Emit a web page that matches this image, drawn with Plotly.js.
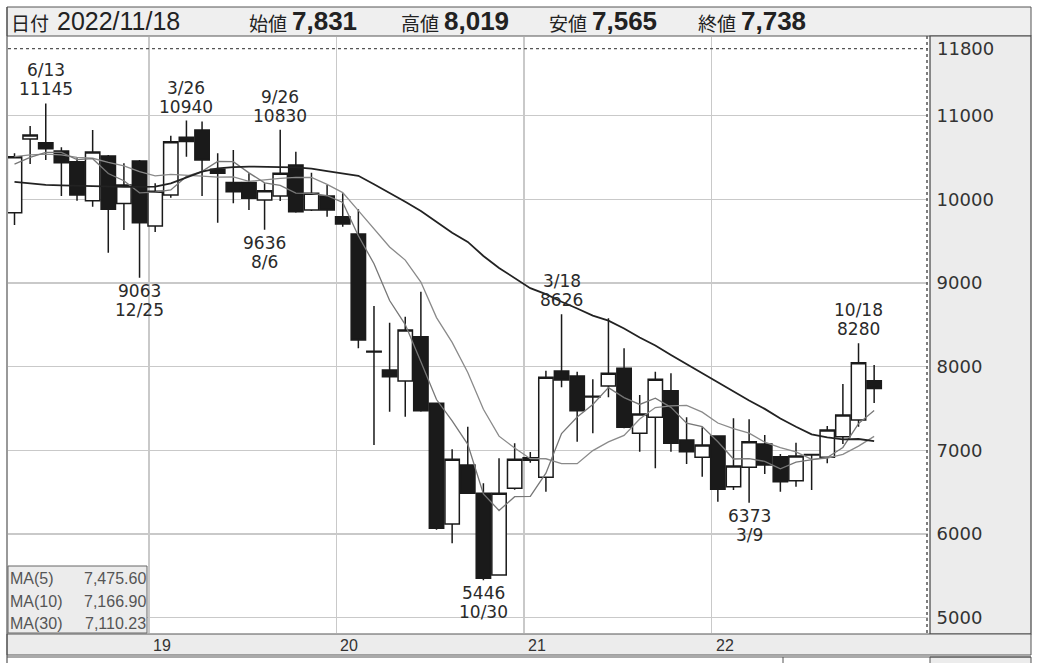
<!DOCTYPE html>
<html><head><meta charset="utf-8">
<script src="https://cdn.plot.ly/plotly-3.0.1.min.js"></script>
<style>html,body{margin:0;padding:0;background:#fff;}#chart{width:1040px;height:663px;}</style>
</head><body><div id="chart"></div>
<script>
// ---------- data (monthly candles, Apr 2018 - Nov 2022) ----------
const months = ['2018/04','2018/05','2018/06','2018/07','2018/08','2018/09','2018/10','2018/11','2018/12',
 '2019/01','2019/02','2019/03','2019/04','2019/05','2019/06','2019/07','2019/08','2019/09','2019/10','2019/11','2019/12',
 '2020/01','2020/02','2020/03','2020/04','2020/05','2020/06','2020/07','2020/08','2020/09','2020/10','2020/11','2020/12',
 '2021/01','2021/02','2021/03','2021/04','2021/05','2021/06','2021/07','2021/08','2021/09','2021/10','2021/11','2021/12',
 '2022/01','2022/02','2022/03','2022/04','2022/05','2022/06','2022/07','2022/08','2022/09','2022/10','2022/11'];
const openV  = [9840,10720,10676,10577,10449,9983,10517,9950,10458,9680,10051,10740,10828,10358,10199,10199,9992,10039,10410,9872,10039,
 9792,9585,8185,7960,7829,8358,7562,6120,6825,6487,5510,6546,6880,6678,7948,7888,7645,7769,7980,7204,7395,7713,7124,6917,
 7171,6566,6797,7076,6924,6637,6944,6917,7163,7363,7831];
const highV  = [10550,10876,11145,10621,10490,10828,10530,10430,10470,10190,10760,10940,10930,10550,10589,10311,10191,10830,10569,10318,10171,
 10072,9880,8725,8525,8597,8896,7570,7013,7283,6606,6905,7084,6980,7952,8626,7940,7849,8578,8219,7661,7940,7921,7395,7275,
 7180,7383,7371,7183,6956,7091,6960,7291,7793,8280,8019];
const lowV   = [9693,10422,10470,10039,9983,9912,9362,9633,9063,9610,10019,10509,10039,9720,9952,9872,9636,9980,9840,9860,9792,
 9673,8219,7064,7462,7402,7460,6050,5889,6480,5446,5500,6530,6850,6506,7753,7103,7204,7634,7265,6984,6785,6984,6837,6685,
 6386,6526,6373,6717,6506,6566,6526,6845,7076,7283,7565];
const closeV = [10509,10768,10605,10437,10051,10565,9880,10170,9720,10095,10688,10690,10470,10311,10091,10012,10103,10311,9852,10072,9872,
 9705,8319,8175,7880,8438,7474,6068,6893,6487,5471,6487,6893,6910,7873,7841,7474,7638,7921,7275,7434,7849,7084,6984,7064,
 6535,6813,7103,6825,6625,6932,6950,7243,7422,8047,7738];
const ma5  = [10420,10500,10560,10560,10474,10485,10308,10221,10077,10086,10111,10273,10333,10451,10450,10315,10197,10166,10074,10070,10042,
 9962,9564,9229,8790,8503,8057,7607,7351,7072,6479,6281,6446,6450,6727,7201,7398,7547,7749,7630,7548,7623,7513,7325,7283,
 7103,6896,6900,6868,6780,6860,6887,6915,7034,7319,7476];
const ma10 = [10510,10530,10540,10530,10500,10490,10440,10400,10330,10280,10298,10290,10277,10264,10268,10213,10235,10249,10262,10260,10178,
 10080,9865,9651,9430,9273,9010,8586,8290,7931,7491,7169,7027,6900,6899,6840,6840,6997,7100,7178,7375,7511,7530,7537,7456,
 7326,7260,7206,7097,7032,6981,6892,6907,6951,7050,7167];
const ma30 = [10207,10189,10171,10165,10159,10159,10153,10147,10147,10150,10190,10260,10330,10370,10385,10390,10390,10385,10380,10365,10335,
 10310,10280,10180,10080,9970,9860,9730,9600,9490,9322,9180,9056,8938,8866,8775,8695,8610,8550,8456,8348,8253,8140,8030,7929,
 7813,7703,7596,7495,7380,7282,7191,7155,7130,7135,7110];

const yearLabels = ['19','20','21','22'];
const yearFirstMonth = ['2019/01','2020/01','2021/01','2022/01'];
const yTicks = [5000,6000,7000,8000,9000,10000,11000];
const yTopTick = 11800;

const highMarkMonth = ['2018/06','2019/03','2019/09','2021/03','2022/10'];
const highMarkDate  = ['6/13','3/26','9/26','3/18','10/18'];
const lowMarkMonth  = ['2018/12','2019/08','2020/10','2022/03'];
const lowMarkDate   = ['12/25','8/6','10/30','3/9'];

const headerLabels = ['始値','高値','安値','終値'];
const headerValues = ['7,831','8,019','7,565','7,738'];
const headerDateLabel = '日付';
const headerDate = '2022/11/18';
const maNames = ['MA(5)','MA(10)','MA(30)'];
const maLast  = ['7,475.60','7,166.90','7,110.23'];

// ---------- drawing ----------
const idx = months.map((m,i)=>i);
const W=1040,H=663, L=8, R=928, T=37, B=633;
const X = px => (px-L)/(R-L);
const Y = py => (B-py)/(B-T);
const dark='#1a1a1a';

const traces = [
 {type:'candlestick', x:idx, open:openV, high:highV, low:lowV, close:closeV,
  increasing:{line:{color:dark,width:1.5}, fillcolor:'#ffffff'},
  decreasing:{line:{color:dark,width:1.5}, fillcolor:dark},
  whiskerwidth:0, hoverinfo:'none', showlegend:false},
 {type:'scatter', mode:'lines', x:idx, y:ma10, line:{color:'#8a8a8a', width:1.3}, hoverinfo:'none', showlegend:false},
 {type:'scatter', mode:'lines', x:idx, y:ma5,  line:{color:'#777777', width:1.3}, hoverinfo:'none', showlegend:false},
 {type:'scatter', mode:'lines', x:idx, y:ma30, line:{color:'#222222', width:1.8}, hoverinfo:'none', showlegend:false}
];

const yearPos = yearFirstMonth.map(m => months.indexOf(m) - 0.4);
const shapes = [
 {type:'rect', xref:'paper', yref:'paper', x0:X(7), x1:X(1031), y0:Y(36), y1:Y(7), fillcolor:'#efefef', line:{color:'#555',width:1}, layer:'below'},
 {type:'rect', xref:'paper', yref:'paper', x0:X(930), x1:X(1031), y0:Y(634), y1:Y(36), fillcolor:'#ececec', line:{color:'#444',width:1.2}, layer:'below'},
 {type:'rect', xref:'paper', yref:'paper', x0:X(7), x1:X(1031), y0:Y(655), y1:Y(634), fillcolor:'#ececec', line:{color:'#555',width:1}, layer:'below'},
 {type:'rect', xref:'paper', yref:'paper', x0:X(930), x1:X(1031), y0:Y(664), y1:Y(657), fillcolor:'#ececec', line:{color:'#555',width:1}, layer:'below'},
 {type:'line', xref:'paper', yref:'paper', x0:X(7), x1:X(1031), y0:Y(657), y1:Y(657), line:{color:'#555',width:1}},
 {type:'line', xref:'paper', yref:'paper', x0:X(783), x1:X(783), y0:Y(657), y1:Y(664), line:{color:'#555',width:1}},
 {type:'line', xref:'paper', yref:'paper', x0:X(7), x1:X(7), y0:Y(664), y1:Y(7), line:{color:'#555',width:1.2}},
 {type:'line', xref:'paper', yref:'y', x0:0, x1:1, y0:yTopTick, y1:yTopTick, line:{color:'#555',width:1.2,dash:'dot'}},
 {type:'line', xref:'paper', yref:'paper', x0:X(927), x1:X(927), y0:0, y1:Y(36), line:{color:'#555',width:1.5,dash:'dot'}},
 {type:'rect', xref:'paper', yref:'paper', x0:X(8), x1:X(147), y0:0, y1:Y(566), fillcolor:'#ececec', line:{color:'#666',width:1}, layer:'above'}
];

const ann = [];
const lblFont = {family:'DejaVu Sans, Verdana, sans-serif', size:17, color:'#2a2a2a'};
highMarkMonth.forEach((m,k)=>{
  const i = months.indexOf(m);
  ann.push({x:i, y:highV[i], xref:'x', yref:'y', text:String(highV[i]), showarrow:false, yanchor:'bottom', yshift:2, font:lblFont});
  ann.push({x:i, y:highV[i], xref:'x', yref:'y', text:highMarkDate[k], showarrow:false, yanchor:'bottom', yshift:21, font:lblFont});
});
lowMarkMonth.forEach((m,k)=>{
  const i = months.indexOf(m);
  ann.push({x:i, y:lowV[i], xref:'x', yref:'y', text:String(lowV[i]), showarrow:false, yanchor:'top', yshift:-1, font:lblFont});
  ann.push({x:i, y:lowV[i], xref:'x', yref:'y', text:lowMarkDate[k], showarrow:false, yanchor:'top', yshift:-20, font:lblFont});
});
ann.push({x:X(935), y:yTopTick, xref:'paper', yref:'y', text:String(yTopTick), showarrow:false, xanchor:'left', yanchor:'middle',
  font:{family:'DejaVu Sans, Verdana, sans-serif', size:18, color:'#333'}});
yearLabels.forEach((t,k)=>{
  ann.push({x:yearPos[k], y:Y(645), xref:'x', yref:'paper', text:t, showarrow:false, xanchor:'left', yanchor:'middle', xshift:2,
    font:{family:'Liberation Sans, sans-serif', size:16, color:'#333'}});
});
// header
const hLab = {family:'Noto Sans CJK JP, sans-serif', size:19, color:'#222'};
const hNum = {family:'Liberation Sans, Arial, sans-serif', size:25, color:'#222'};
const hBold = {family:'Liberation Sans, Arial, sans-serif', size:26, color:'#222'};
ann.push({x:X(9), y:Y(22), xref:'paper', yref:'paper', text:headerDateLabel, showarrow:false, xanchor:'left', yanchor:'middle', font:hLab});
ann.push({x:X(55), y:Y(21), xref:'paper', yref:'paper', text:headerDate, showarrow:false, xanchor:'left', yanchor:'middle', font:hNum});
const hx = [247,399,547,696];
headerLabels.forEach((t,k)=>{
  ann.push({x:X(hx[k]), y:Y(22), xref:'paper', yref:'paper', text:t, showarrow:false, xanchor:'left', yanchor:'middle', font:hLab});
  ann.push({x:X(hx[k]+43), y:Y(21), xref:'paper', yref:'paper', text:'<b>'+headerValues[k]+'</b>', showarrow:false, xanchor:'left', yanchor:'middle', font:hBold});
});
// MA legend
const mFont = {family:'Liberation Sans, Arial, sans-serif', size:16, color:'#555'};
const rowY = [578,601,623];
maNames.forEach((t,k)=>{
  ann.push({x:X(8), y:Y(rowY[k]), xref:'paper', yref:'paper', text:t, showarrow:false, xanchor:'left', yanchor:'middle', font:mFont});
  ann.push({x:X(148), y:Y(rowY[k]), xref:'paper', yref:'paper', text:maLast[k], showarrow:false, xanchor:'right', yanchor:'middle', font:mFont});
});

const layout = {
  width:W, height:H, margin:{l:L, r:W-R, t:T, b:H-B, pad:0},
  paper_bgcolor:'#ffffff', plot_bgcolor:'#ffffff', showlegend:false, boxgap:0.08, boxgroupgap:0,
  xaxis:{type:'linear', range:[(L-14.5)/15.63, (R-14.5)/15.63], tickvals:yearPos, showticklabels:false,
    showgrid:true, gridcolor:'#c9c9c9', gridwidth:1.5, zeroline:false, showline:false, ticks:'', rangeslider:{visible:false}, fixedrange:true},
  yaxis:{side:'right', range:[4817,11939], tickvals:yTicks, ticktext:yTicks.map(String), showgrid:true, gridcolor:'#c9c9c9', gridwidth:1.5,
    zeroline:false, showline:false, ticks:'outside', ticklen:4, tickcolor:'rgba(0,0,0,0)',
    tickfont:{family:'DejaVu Sans, Verdana, sans-serif', size:18, color:'#333'}, fixedrange:true},
  shapes:shapes, annotations:ann
};
Plotly.newPlot('chart', traces, layout, {displayModeBar:false, staticPlot:true});
</script></body></html>
